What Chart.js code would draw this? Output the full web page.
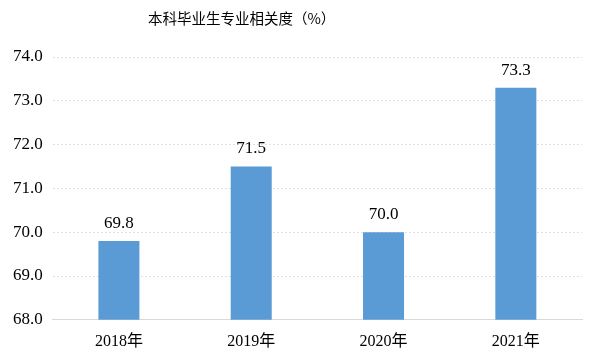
<!DOCTYPE html>
<html>
<head>
<meta charset="utf-8">
<script src="https://cdn.jsdelivr.net/npm/chart.js@4"></script>
<style>
  body { margin: 0; background: #fff; }
  #wrap { position: relative; width: 600px; height: 364px; }
  #title { position: absolute; left: 148px; top: 7px; font: 14.5px "Noto Sans CJK SC", sans-serif; color: #000; }
  canvas { display: block; }
</style>
</head>
<body>
<div id="wrap">
  <div id="title">本科毕业生专业相关度（%）</div>
  <canvas id="c" width="600" height="364"></canvas>
</div>
<script>
var years = ["2018年", "2019年", "2020年", "2021年"];
var values = [69.8, 71.5, 70.0, 73.3];
var yMin = 68, yMax = 74, yStep = 1;

var valueLabels = {
  id: 'valueLabels',
  afterDatasetsDraw: function (chart) {
    var ctx = chart.ctx;
    var meta = chart.getDatasetMeta(0);
    ctx.save();
    ctx.font = '17px "Liberation Serif", serif';
    ctx.fillStyle = '#000';
    ctx.textAlign = 'center';
    ctx.textBaseline = 'bottom';
    meta.data.forEach(function (bar, i) {
      ctx.fillText(values[i].toFixed(1), bar.x, bar.y - 9);
    });
    ctx.restore();
  }
};

new Chart(document.getElementById("c"), {
  type: 'bar',
  data: {
    labels: years,
    datasets: [{
      data: values,
      backgroundColor: "#5b9bd5",
      barPercentage: 0.31,
      categoryPercentage: 1.0
    }]
  },
  options: {
    responsive: false,
    animation: false,
    layout: { padding: { top: 57, right: 18, left: 3, bottom: 9 } },
    plugins: {
      legend: { display: false },
      tooltip: { enabled: false }
    },
    scales: {
      x: {
        grid: { display: false },
        border: { display: true, color: '#d9d9d9', width: 1 },
        ticks: { color: '#000', padding: 4, font: { family: '"Liberation Serif", "Noto Sans CJK SC", serif', size: 16 } }
      },
      y: {
        min: yMin,
        max: yMax,
        ticks: {
          stepSize: yStep,
          padding: 10,
          color: '#000',
          font: { family: '"Liberation Serif", serif', size: 17 },
          callback: function (v) { return v.toFixed(1); }
        },
        grid: { color: '#e0e0e0', drawTicks: false, lineWidth: 1 },
        border: { display: false, dash: [2, 2] }
      }
    }
  },
  plugins: [valueLabels]
});
</script>
</body>
</html>
